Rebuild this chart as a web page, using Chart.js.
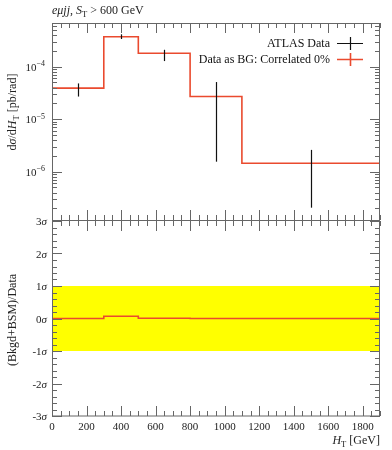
<!DOCTYPE html>
<html>
<head>
<meta charset="utf-8">
<script src="https://cdn.jsdelivr.net/npm/chart.js@4.4.0/dist/chart.umd.min.js"></script>
<style>
  html, body { margin: 0; padding: 0; background: #fff; }
  #wrap { position: relative; width: 392px; height: 450px; }
  #botBox { position: absolute; left: 0; top: 200px; }
  #topBox { position: absolute; left: 0; top: 0; }
</style>
</head>
<body>
<div id="wrap">
  <div id="botBox"><canvas id="ratio" width="392" height="250"></canvas></div>
  <div id="topBox"><canvas id="main" width="392" height="222"></canvas></div>
</div>
<script>
// --- data ---
const binEdges = [0, 300, 500, 800, 1100, 1900];
const binCenters = [150, 400, 650, 950, 1500];
const dataValues = [3.9e-5, 3.72e-4, 1.8e-4, 2.7e-5, 1.45e-6];
const dataErrLow = [2.7e-5, 3.37e-4, 1.28e-4, 1.55e-6, 2.06e-7];
const dataErrHigh = [4.8e-5, 4.14e-4, 2.1e-4, 5.1e-5, 2.6e-6];
const bgValues = [3.9e-5, 3.72e-4, 1.8e-4, 2.7e-5, 1.45e-6];
const ratioValues = [0, 0.07, 0.01, 0, 0];
const bandRange = [-1, 1];
const xTicks = [0, 200, 400, 600, 800, 1000, 1200, 1400, 1600, 1800];
const logTicks = [1e-6, 1e-5, 1e-4];
const sigmaTicks = [-3, -2, -1, 0, 1, 2, 3];
const legendLabels = ["ATLAS Data", "Data as BG: Correlated 0%"];

const SERIF = "'Liberation Serif', 'DejaVu Serif', serif";
const RED = "#ea4a2e";
const AXIS = "#666";

function stepPoints(values) {
  return binEdges.map((x, i) => ({ x: x, y: values[Math.min(i, values.length - 1)] }));
}

// text made of pieces: {t, it, sub, sup}
function drawRich(ctx, segs, x, y, align, size) {
  const fontFor = (s) => {
    const sz = s.sub || s.sup ? size * 0.72 : size;
    return (s.it ? "italic " : "") + sz + "px " + SERIF;
  };
  let total = 0;
  segs.forEach((s) => { ctx.font = fontFor(s); total += ctx.measureText(s.t).width; });
  let cx = align === "right" ? x - total : align === "center" ? x - total / 2 : x;
  ctx.textAlign = "left";
  ctx.textBaseline = "alphabetic";
  segs.forEach((s) => {
    ctx.font = fontFor(s);
    let dy = s.sub ? size * 0.25 : s.sup ? -size * 0.4 : 0;
    ctx.fillText(s.t, cx, y + dy);
    cx += ctx.measureText(s.t).width;
  });
}

function drawXTicks(ctx, xs, a) {
  for (let v = 0; v <= 1900; v += 50) {
    const px = Math.round(xs.getPixelForValue(v)) + 0.5;
    const len = v % 200 === 0 ? 10 : 5;
    ctx.beginPath();
    ctx.moveTo(px, a.bottom); ctx.lineTo(px, a.bottom - len);
    ctx.moveTo(px, a.top); ctx.lineTo(px, a.top + len);
    ctx.stroke();
  }
}

function drawYTick(ctx, py, a, len) {
  py = Math.round(py) + 0.5;
  ctx.beginPath();
  ctx.moveTo(a.left, py); ctx.lineTo(a.left + len, py);
  ctx.moveTo(a.right, py); ctx.lineTo(a.right - len, py);
  ctx.stroke();
}

const mainDecor = {
  id: "mainDecor",
  afterDatasetsDraw(chart) {
    const { ctx, chartArea: a, scales } = chart;
    const xs = scales.x, ys = scales.y;
    ctx.save();
    // error bars
    ctx.strokeStyle = "#111";
    ctx.lineWidth = 1.2;
    binCenters.forEach((c, i) => {
      const px = Math.round(xs.getPixelForValue(c)) + 0.5;
      ctx.beginPath();
      ctx.moveTo(px, ys.getPixelForValue(dataErrHigh[i]));
      ctx.lineTo(px, ys.getPixelForValue(dataErrLow[i]));
      ctx.stroke();
    });
    // frame + ticks
    ctx.strokeStyle = AXIS;
    ctx.lineWidth = 1;
    ctx.strokeRect(a.left + 0.5, a.top + 0.5, a.right - a.left - 1, a.bottom - a.top);
    drawXTicks(ctx, xs, a);
    for (let d = -7; d <= -4; d++) {
      for (let m = 1; m <= 9; m++) {
        const v = m * Math.pow(10, d);
        if (v < ys.min || v > ys.max) continue;
        drawYTick(ctx, ys.getPixelForValue(v), a, m === 1 ? 10 : 5);
      }
    }
    // tick labels
    ctx.fillStyle = "#222";
    logTicks.forEach((v) => {
      const py = ys.getPixelForValue(v);
      const exp = Math.round(Math.log10(v));
      drawRich(ctx, [{ t: "10" }, { t: "\u2212" + Math.abs(exp), sup: true }], a.left - 7, py + 4, "right", 11);
    });
    // title
    drawRich(ctx, [{ t: "e\u03bcjj", it: true }, { t: ", " }, { t: "S", it: true }, { t: "T", sub: true }, { t: " > 600 GeV" }], 52, 14, "left", 12);
    // y title
    ctx.save();
    ctx.translate(16, 112);
    ctx.rotate(-Math.PI / 2);
    drawRich(ctx, [{ t: "d" }, { t: "\u03c3", it: true }, { t: "/d" }, { t: "H", it: true }, { t: "T", sub: true }, { t: " [pb/rad]" }], 0, 0, "center", 12);
    ctx.restore();
    // legend
    const lx0 = 337, lx1 = 363, lxm = 350;
    [[43, "#111"], [59, RED]].forEach(([ly, col], i) => {
      ctx.fillStyle = "#111";
      drawRich(ctx, [{ t: legendLabels[i] }], 330, ly + 4, "right", 12);
      ctx.strokeStyle = col;
      ctx.lineWidth = i === 0 ? 1.2 : 1.6;
      ctx.beginPath();
      ctx.moveTo(lx0, ly + 0.5); ctx.lineTo(lx1, ly + 0.5);
      ctx.moveTo(lxm + 0.5, ly - 6); ctx.lineTo(lxm + 0.5, ly + 7);
      ctx.stroke();
    });
    ctx.restore();
  },
};

const ratioDecor = {
  id: "ratioDecor",
  afterDatasetsDraw(chart) {
    const { ctx, chartArea: a, scales } = chart;
    const xs = scales.x, ys = scales.y;
    ctx.save();
    ctx.strokeStyle = AXIS;
    ctx.lineWidth = 1;
    ctx.strokeRect(a.left + 0.5, a.top - 0.5, a.right - a.left - 1, a.bottom - a.top + 0.5);
    drawXTicks(ctx, xs, a);
    for (let v = -3; v <= 3.001; v += 0.2) {
      const r = Math.round(v * 10) / 10;
      drawYTick(ctx, ys.getPixelForValue(r), a, Number.isInteger(r) ? 10 : 5);
    }
    ctx.fillStyle = "#222";
    sigmaTicks.forEach((v) => {
      const py = ys.getPixelForValue(v);
      drawRich(ctx, [{ t: String(v) }, { t: "\u03c3", it: true }], a.left - 5, py + 4, "right", 11);
    });
    // y title
    ctx.save();
    ctx.translate(16, 120);
    ctx.rotate(-Math.PI / 2);
    drawRich(ctx, [{ t: "(Bkgd+BSM)/Data" }], 0, 0, "center", 12);
    ctx.restore();
    // x title
    drawRich(ctx, [{ t: "H", it: true }, { t: "T", sub: true }, { t: " [GeV]" }], a.right, 244, "right", 12);
    ctx.restore();
  },
};

new Chart(document.getElementById("main"), {
  type: "line",
  data: {
    datasets: [
      {
        label: "Data as BG: Correlated 0%",
        data: stepPoints(bgValues),
        stepped: "before",
        borderColor: RED,
        borderWidth: 1.6,
        pointRadius: 0,
        fill: false,
      },
    ],
  },
  options: {
    responsive: false,
    animation: false,
    layout: { padding: { left: 52, right: 12, top: 23, bottom: 2 } },
    plugins: { legend: { display: false }, tooltip: { enabled: false } },
    scales: {
      x: { type: "linear", min: 0, max: 1900, display: false },
      y: { type: "logarithmic", min: 1.2e-7, max: 6.8e-4, display: false },
    },
  },
  plugins: [mainDecor],
});

new Chart(document.getElementById("ratio"), {
  type: "line",
  data: {
    datasets: [
      {
        label: "ratio",
        data: stepPoints(ratioValues),
        stepped: "before",
        borderColor: RED,
        borderWidth: 1.6,
        pointRadius: 0,
        fill: false,
        order: 1,
      },
      {
        label: "band",
        data: [
          { x: binEdges[0], y: bandRange[1] },
          { x: binEdges[binEdges.length - 1], y: bandRange[1] },
        ],
        borderWidth: 0,
        pointRadius: 0,
        backgroundColor: "#ffff00",
        fill: { value: bandRange[0] },
        order: 2,
      },
    ],
  },
  options: {
    responsive: false,
    animation: false,
    layout: { padding: { left: 52, right: 12, top: 21, bottom: 0 } },
    plugins: { legend: { display: false }, tooltip: { enabled: false } },
    scales: {
      x: {
        type: "linear",
        min: 0,
        max: 1900,
        grid: { display: false, drawTicks: false },
        border: { display: false },
        afterBuildTicks: (s) => { s.ticks = xTicks.map((v) => ({ value: v })); },
        afterFit: (s) => { s.height = 34; },
        ticks: {
          padding: 5,
          color: "#222",
          font: { family: SERIF, size: 11 },
          maxRotation: 0,
          autoSkip: false,
          callback: (v) => String(v),
        },
      },
      y: { type: "linear", min: -3, max: 3, display: false },
    },
  },
  plugins: [ratioDecor],
});
</script>
</body>
</html>
